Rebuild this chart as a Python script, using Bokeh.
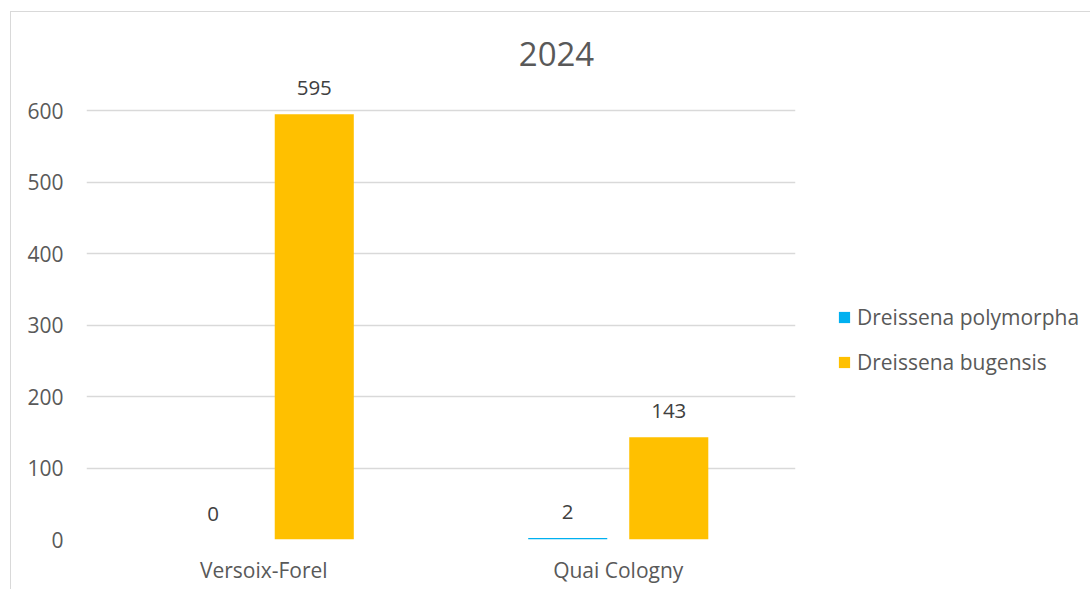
from bokeh.plotting import figure
from bokeh.models import (ColumnDataSource, Range1d, FactorRange, LabelSet, Legend, LegendItem,
                          Label, FixedTicker)
from bokeh.core.properties import value
from bokeh.transform import dodge
from bokeh.embed import file_html
from bokeh.resources import INLINE

# ---- data ----
sites = ["Versoix-Forel", "Quai Cologny"]
polymorpha = [0, 2]
bugensis = [595, 143]
series_names = ["Dreissena polymorpha", "Dreissena bugensis"]
y_ticks = [0, 100, 200, 300, 400, 500, 600]
title_text = "2024"

FONT = "Open Sans"
TXT = "#595959"
GRID = "#D9D9D9"
BLUE = "#00B0F0"
ORANGE = "#FFC000"

src = ColumnDataSource(dict(
    site=sites, poly=polymorpha, bug=bugensis,
    poly_lbl=[str(v) for v in polymorpha], bug_lbl=[str(v) for v in bugensis],
))

p = figure(frame_width=709, frame_height=509, x_range=FactorRange(*sites), y_range=Range1d(0, 712),
           output_backend="svg", toolbar_location=None,
           min_border_left=75, min_border_right=285, min_border_top=18, min_border_bottom=50)
p.margin = (11, 0, 0, 10)
p.styles = {"border-left": "1px solid #D9D9D9", "border-top": "1px solid #D9D9D9"}
p.outline_line_color = None
p.background_fill_color = "white"
p.border_fill_color = "white"

off = 0.1425
bw = 0.223
r1 = p.vbar(x=dodge("site", -off, range=p.x_range), top="poly", width=bw, source=src,
            fill_color=BLUE, line_color=None)
r2 = p.vbar(x=dodge("site", off, range=p.x_range), top="bug", width=bw, source=src,
            fill_color=ORANGE, line_color=None)

for col, lbl, o in (("poly", "poly_lbl", -off), ("bug", "bug_lbl", off)):
    ls = LabelSet(x=dodge("site", o, range=p.x_range), y=col, text=lbl, source=src,
                  text_align="center", text_baseline="middle", y_offset=26,
                  text_font=value(FONT), text_font_size="20.5px", text_color="#404040")
    p.add_layout(ls)

# axes
p.yaxis.ticker = FixedTicker(ticks=y_ticks)
p.yaxis.axis_line_color = None
p.yaxis.major_tick_line_color = None
p.yaxis.minor_tick_line_color = None
p.yaxis.major_tick_out = 0
p.yaxis.major_tick_in = 0
p.yaxis.major_label_standoff = 23
p.yaxis.major_label_text_font = FONT
p.yaxis.major_label_text_font_size = "21px"
p.yaxis.major_label_text_color = TXT

p.xaxis.axis_line_color = None
p.xaxis.major_tick_line_color = None
p.xaxis.minor_tick_line_color = None
p.xaxis.major_tick_out = 0
p.xaxis.major_tick_in = 0
p.xaxis.major_label_standoff = 16
p.xaxis.major_label_text_font = FONT
p.xaxis.major_label_text_font_size = "21px"
p.xaxis.major_label_text_color = TXT

p.xgrid.grid_line_color = None
p.ygrid.grid_line_color = GRID
p.ygrid.grid_line_width = 1.5
p.ygrid.ticker = FixedTicker(ticks=y_ticks)

# title (screen units relative to the plot frame)
t = Label(x=470, y=486, x_units="screen", y_units="screen", text=title_text,
          text_align="center", text_baseline="middle", text_font=FONT,
          text_font_size="33px", text_color=TXT)
p.add_layout(t)

# legend in the right panel
legend = Legend(items=[LegendItem(label=series_names[0], renderers=[r1]),
                       LegendItem(label=series_names[1], renderers=[r2])],
                location=(42, 163), orientation="vertical", margin=0, padding=0,
                label_text_font=FONT, label_text_font_size="21px", label_text_color=TXT,
                glyph_width=14, glyph_height=14, label_standoff=6, spacing=17,
                border_line_color=None, background_fill_alpha=0)
p.add_layout(legend, "right")

open("out.html", "w").write(file_html(p, INLINE))
